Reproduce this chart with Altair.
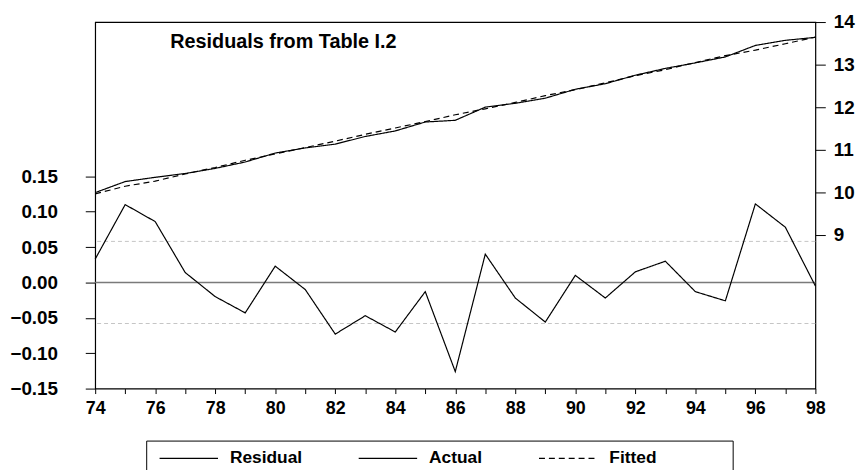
import altair as alt
import pandas as pd

years = list(range(74, 99))
residual = [0.033, 0.110, 0.086, 0.014, -0.020, -0.043, 0.023, -0.010, -0.073, -0.047,
            -0.070, -0.013, -0.126, 0.040, -0.022, -0.056, 0.010, -0.022, 0.015, 0.030,
            -0.013, -0.026, 0.111, 0.078, -0.005]
actual = [9.99, 10.25, 10.35, 10.44, 10.56, 10.71, 10.92, 11.04, 11.13, 11.31,
          11.44, 11.65, 11.69, 12.00, 12.09, 12.21, 12.42, 12.55, 12.75, 12.91,
          13.04, 13.18, 13.45, 13.57, 13.64]
fitted = [9.96, 10.14, 10.26, 10.43, 10.58, 10.75, 10.90, 11.05, 11.20, 11.36,
          11.51, 11.66, 11.82, 11.96, 12.11, 12.27, 12.41, 12.57, 12.74, 12.88,
          13.05, 13.21, 13.34, 13.49, 13.645]
se_band = [0.058, -0.058]
zero_line = [0.0]
left_ticks = [-0.15, -0.10, -0.05, 0.0, 0.05, 0.10, 0.15]
right_ticks = [9, 10, 11, 12, 13, 14]
series_names = ["Residual", "Actual", "Fitted"]
title_text = "Residuals from Table I.2"

FONT = "Liberation Sans"

resid_df = pd.DataFrame({"year": years, "value": residual, "series": "Residual"})
fit_df = pd.concat([
    pd.DataFrame({"year": years, "value": actual, "series": "Actual"}),
    pd.DataFrame({"year": years, "value": fitted, "series": "Fitted"}),
])

x_enc = alt.X(
    "year:Q",
    scale=alt.Scale(domain=[74, 98], nice=False, zero=False),
    axis=alt.Axis(
        values=years, title=None, tickSize=5, labelPadding=6,
        labelExpr="datum.value % 2 == 0 ? datum.label : ''",
        labelFont="'Liberation Sans Narrow', 'Liberation Sans', sans-serif",
        labelFontSize=18, labelFlush=False,
    ),
)

left_scale = alt.Scale(domain=[-0.15, 0.368], nice=False, zero=False)
left_axis = alt.Axis(values=left_ticks, format=".2f", title=None, tickSize=10,
                     labelPadding=28, orient="left")

dash_scale = alt.Scale(domain=series_names, range=[[1, 0], [1, 0], [6, 4]])
legend = alt.Legend(
    orient="none", legendX=56, legendY=402, direction="horizontal", columns=3,
    title=None, symbolType="stroke", symbolSize=3481, symbolStrokeWidth=1.2,
    symbolStrokeColor="black", labelFont=FONT, labelFontSize=17.5,
    labelFontWeight="bold", labelColor="black", columnPadding=54, labelOffset=11,
    padding=8,
)

zero_rule = alt.Chart(pd.DataFrame({"value": zero_line})).mark_rule(
    color="#7a7a7a", strokeWidth=1.6
).encode(y=alt.Y("value:Q", scale=left_scale, axis=left_axis))

band_rule = alt.Chart(pd.DataFrame({"value": se_band})).mark_rule(
    color="#c4c4c4", strokeWidth=1, strokeDash=[4, 3]
).encode(y=alt.Y("value:Q", scale=left_scale, axis=left_axis))

resid_line = alt.Chart(resid_df).mark_line(color="black", strokeWidth=1.2).encode(
    x=x_enc,
    y=alt.Y("value:Q", scale=left_scale, axis=left_axis),
    strokeDash=alt.StrokeDash("series:N", scale=dash_scale, legend=legend),
)

left = alt.layer(band_rule, zero_rule, resid_line)

fit_line = alt.Chart(fit_df).mark_line(color="black", strokeWidth=1.2).encode(
    x=x_enc,
    y=alt.Y("value:Q", scale=alt.Scale(domain=[5.383, 14], nice=False, zero=False),
            axis=alt.Axis(values=right_ticks, title=None, tickSize=10,
                          labelPadding=8, orient="right")),
    strokeDash=alt.StrokeDash("series:N", scale=dash_scale, legend=legend),
)

title_mark = alt.Chart(pd.DataFrame({"t": [title_text]})).mark_text(
    font=FONT, fontSize=20, fontWeight="bold", color="black",
    align="center", baseline="alphabetic",
).encode(text="t:N", x=alt.value(190), y=alt.value(26))

legend_box = alt.Chart(pd.DataFrame({"b": [1]})).mark_rect(
    fill="transparent", stroke="black", strokeWidth=1
).encode(x=alt.value(52), x2=alt.value(644), y=alt.value(423), y2=alt.value(480))

chart = alt.layer(left, fit_line, title_mark, legend_box).resolve_scale(
    y="independent"
).properties(
    width=727, height=370,
    autosize=alt.AutoSizeParams(type="none"),
    padding={"left": 88, "top": 12, "right": 41, "bottom": 80},
    background="white",
).configure_view(
    stroke="black", strokeWidth=1.2
).configure_axis(
    grid=False, domain=False, labelFont=FONT, labelFontSize=19,
    labelFontWeight="bold", labelColor="black", tickColor="black", tickWidth=1,
)

chart.save("out.html", embed_options={"renderer": "svg", "actions": False})
